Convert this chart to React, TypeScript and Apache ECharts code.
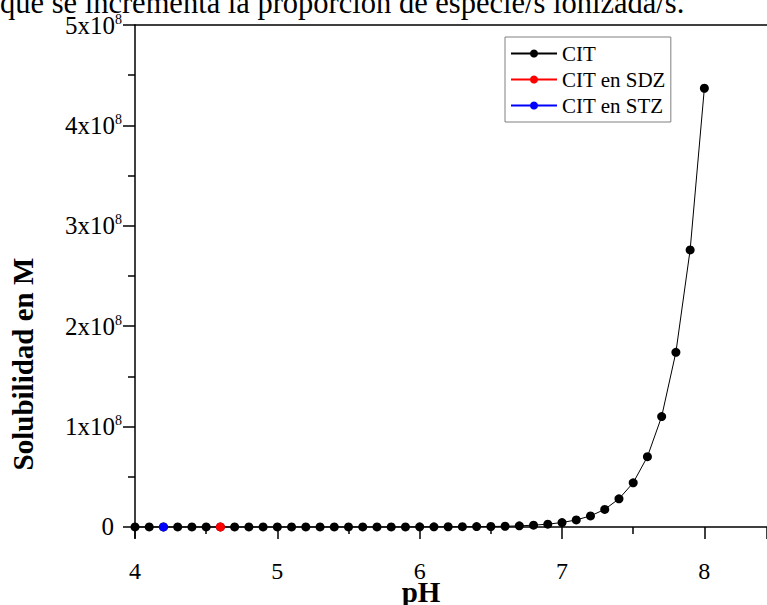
import React, { useEffect, useRef } from "react";
import * as echarts from "echarts";

const topCaption = "que se incrementa la proporción de especie/s ionizada/s.";
const xTitle = "pH";
const yTitle = "Solubilidad en M";
const seriesNames = ["CIT", "CIT en SDZ", "CIT en STZ"];

const phValues = [
  4.0, 4.1, 4.2, 4.3, 4.4, 4.5, 4.6, 4.7, 4.8, 4.9,
  5.0, 5.1, 5.2, 5.3, 5.4, 5.5, 5.6, 5.7, 5.8, 5.9,
  6.0, 6.1, 6.2, 6.3, 6.4, 6.5, 6.6, 6.7, 6.8, 6.9,
  7.0, 7.1, 7.2, 7.3, 7.4, 7.5, 7.6, 7.7, 7.8, 7.9, 8.0,
];
const citSolubility = [
  1000, 1000, 1000, 1000, 1000, 1000, 1000, 1000, 1000, 2000,
  2000, 3000, 4000, 6000, 9000, 14000, 20000, 30000, 45000, 70000,
  100000, 150000, 200000, 280000, 380000, 450000, 700000, 1100000, 1750000, 2800000,
  4400000, 7000000, 11000000, 17500000, 28000000, 44000000, 70000000, 110000000, 174000000, 276000000, 437000000,
];
const sdzPH = [4.6];
const sdzSolubility = [1000];
const stzPH = [4.2];
const stzSolubility = [1000];

const xTickLabels = [4, 5, 6, 7, 8];
const yMajorTicks = [0, 1e8, 2e8, 3e8, 4e8, 5e8];
const yMinorTicks = [0.5e8, 1.5e8, 2.5e8, 3.5e8, 4.5e8];

export default function App() {
  const ref = useRef<HTMLDivElement>(null);
  useEffect(() => {
    const chart = echarts.init(ref.current!, null, { renderer: "svg" });
    const serif = "'Liberation Serif', 'Times New Roman', serif";
    const black = "#000";
    const yMin = -1.1e7;
    const yMax = 5e8;
    const xMin = xTickLabels[0];
    const xMax = 8.44;
    const gridBox = { left: 135, right: 0, top: 25, height: 513 };
    chart.setOption({
      animation: false,
      textStyle: { fontFamily: serif },
      grid: [gridBox, gridBox],
      legend: {
        orient: "vertical",
        left: 505,
        top: 37,
        padding: [6, 5, 6, 5],
        itemWidth: 46,
        itemHeight: 10,
        itemGap: 5,
        borderColor: "#808080",
        borderWidth: 1,
        backgroundColor: "#fff",
        textStyle: { fontFamily: serif, fontSize: 21, color: black },
        data: seriesNames,
      },
      xAxis: [
        {
          type: "value",
          gridIndex: 0,
          position: "bottom",
          min: xMin,
          max: xMax,
          interval: 1,
          axisLine: { lineStyle: { color: black, width: 1.5 } },
          axisTick: { length: 12, lineStyle: { color: black, width: 1.5 } },
          minorTick: { show: true, splitNumber: 2, length: 7, lineStyle: { color: black, width: 1.5 } },
          axisLabel: { fontFamily: serif, fontSize: 24, color: black, margin: 21, showMaxLabel: false },
          splitLine: { show: false },
        },
        {
          type: "value",
          gridIndex: 0,
          position: "top",
          min: xMin,
          max: xMax,
          axisLine: { lineStyle: { color: black, width: 1.5 } },
          axisTick: { show: false },
          axisLabel: { show: false },
          splitLine: { show: false },
        },
        {
          type: "value",
          gridIndex: 1,
          min: xMin,
          max: xMax,
          show: false,
        },
      ],
      yAxis: [
        {
          type: "value",
          gridIndex: 0,
          position: "left",
          min: yMin,
          max: yMax,
          axisLine: { show: true, lineStyle: { color: black, width: 1.5 } },
          axisTick: { show: true, customValues: yMajorTicks, length: 12, lineStyle: { color: black, width: 1.5 } },
          axisLabel: {
            customValues: yMajorTicks,
            margin: 13,
            formatter: (v: number) => (v === 0 ? "{z|0}" : `{b|${Math.round(v / 1e8)}x10}{s|8}`),
            rich: {
              b: { fontFamily: serif, fontSize: 25, color: black, lineHeight: 26 },
              z: { fontFamily: serif, fontSize: 25, color: black, lineHeight: 26, padding: [0, 8, 0, 0] },
              s: { fontFamily: serif, fontSize: 14, color: black, verticalAlign: "top", lineHeight: 14 },
            },
          },
          splitLine: { show: false },
        },
        {
          type: "value",
          gridIndex: 1,
          position: "left",
          min: yMin,
          max: yMax,
          axisLine: { show: false },
          axisTick: { show: true, customValues: yMinorTicks, length: 7, lineStyle: { color: black, width: 1.5 } },
          axisLabel: { show: false },
          splitLine: { show: false },
        },
      ],
      graphic: [
        {
          type: "text",
          left: 0,
          top: -13,
          style: { text: topCaption, fontFamily: serif, fontSize: 30.5, fill: black },
        },
        {
          type: "text",
          x: 421,
          y: 592,
          style: { text: xTitle, fontFamily: serif, fontSize: 29, fontWeight: "bold", fill: black, align: "center", verticalAlign: "middle" },
        },
        {
          type: "text",
          x: 23,
          y: 364,
          rotation: Math.PI / 2,
          style: { text: yTitle, fontFamily: serif, fontSize: 29, fontWeight: "bold", fill: black, align: "center", verticalAlign: "middle" },
        },
      ],
      series: [
        {
          name: seriesNames[0],
          type: "line",
          xAxisIndex: 0,
          yAxisIndex: 0,
          data: phValues.map((x, i) => [x, citSolubility[i]]),
          symbol: "circle",
          symbolSize: 9,
          showAllSymbol: true,
          color: black,
          lineStyle: { color: black, width: 1 },
          itemStyle: { color: black },
        },
        {
          name: seriesNames[1],
          type: "line",
          xAxisIndex: 0,
          yAxisIndex: 0,
          data: sdzPH.map((x, i) => [x, sdzSolubility[i]]),
          symbol: "circle",
          symbolSize: 9,
          color: "#ff0000",
          lineStyle: { color: "#ff0000", width: 1 },
          itemStyle: { color: "#ff0000" },
        },
        {
          name: seriesNames[2],
          type: "line",
          xAxisIndex: 0,
          yAxisIndex: 0,
          data: stzPH.map((x, i) => [x, stzSolubility[i]]),
          symbol: "circle",
          symbolSize: 9,
          color: "#0000ff",
          lineStyle: { color: "#0000ff", width: 1 },
          itemStyle: { color: "#0000ff" },
        },
      ],
    });
    return () => chart.dispose();
  }, []);
  return (
    <div
      ref={ref}
      style={{ position: "fixed", left: 0, top: 0, width: 767, height: 605, background: "#fff" }}
    />
  );
}
